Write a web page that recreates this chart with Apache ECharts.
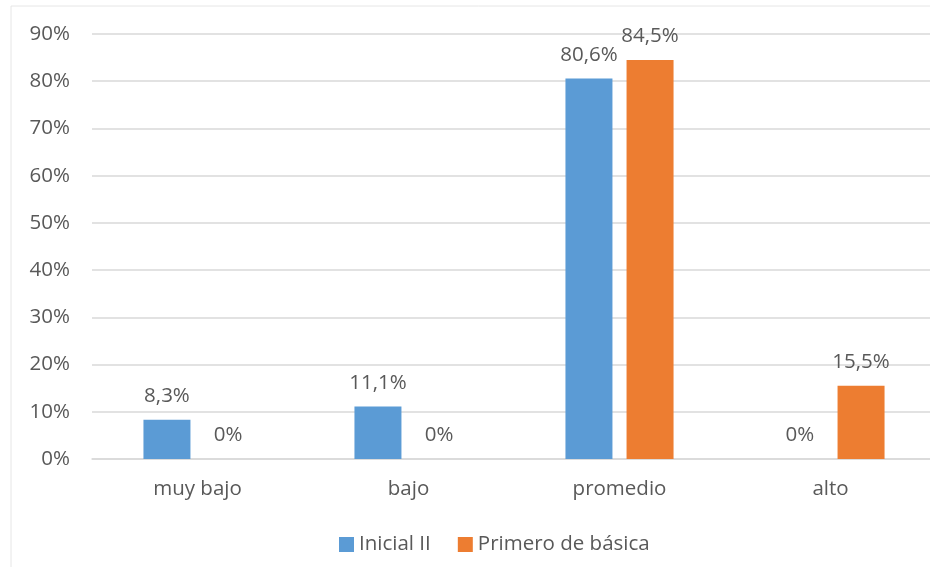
<!DOCTYPE html>
<html>
<head>
<meta charset="utf-8">
<script src="https://cdn.jsdelivr.net/npm/echarts@6/dist/echarts.min.js"></script>
<style>html,body{margin:0;padding:0;background:#fff;overflow:hidden;width:930px;height:567px}#c{width:945px;height:567px}</style>
</head>
<body>
<div id="c"></div>
<script>
var categories = ['muy bajo', 'bajo', 'promedio', 'alto'];
var seriesNames = ['Inicial II', 'Primero de básica'];
var inicial = [8.3, 11.1, 80.6, 0];
var primero = [0, 0, 84.5, 15.5];
var yTicks = [0, 10, 20, 30, 40, 50, 60, 70, 80, 90];

var FONT = 'Open Sans';
var TXT = '#595959';
var FS = 20.5;
function fmt(v) { return String(v).replace('.', ',') + '%'; }

var chart = echarts.init(document.getElementById('c'), null, {renderer: 'canvas'});
var labelCfg = {
  show: true, position: 'top', distance: 13,
  color: TXT, fontFamily: FONT, fontSize: FS,
  formatter: function (p) { return fmt(p.value); }
};
chart.setOption({
  animation: false,
  textStyle: {fontFamily: FONT},
  graphic: [{
    type: 'rect', shape: {x: 11, y: 6, width: 960, height: 580},
    style: {fill: 'none', stroke: '#e6e6e6', lineWidth: 1}, silent: true, z: -10
  }],
  grid: {left: 92, top: 34, width: 844, height: 425, containLabel: false},
  legend: {
    data: seriesNames, top: 529, left: 334,
    itemWidth: 15, itemHeight: 15, itemGap: 27,
    icon: 'rect',
    textStyle: {color: TXT, fontFamily: FONT, fontSize: FS}
  },
  xAxis: {
    type: 'category', data: categories,
    axisLine: {lineStyle: {color: '#d9d9d9', width: 1.5}},
    axisTick: {show: false},
    axisLabel: {color: TXT, fontFamily: FONT, fontSize: FS, margin: 20}
  },
  yAxis: {
    type: 'value', min: yTicks[0], max: yTicks[yTicks.length - 1], interval: 10,
    axisLine: {show: false}, axisTick: {show: false},
    splitLine: {lineStyle: {color: '#d9d9d9', width: 1.5}},
    axisLabel: {color: TXT, fontFamily: FONT, fontSize: FS, margin: 22, formatter: '{value}%'}
  },
  series: [
    {name: seriesNames[0], type: 'bar', data: inicial, barWidth: 47, barGap: '30%',
     itemStyle: {color: '#5B9BD5'}, label: labelCfg},
    {name: seriesNames[1], type: 'bar', data: primero, barWidth: 47, barGap: '30%',
     itemStyle: {color: '#ED7D31'}, label: labelCfg}
  ]
});
</script>
</body>
</html>
